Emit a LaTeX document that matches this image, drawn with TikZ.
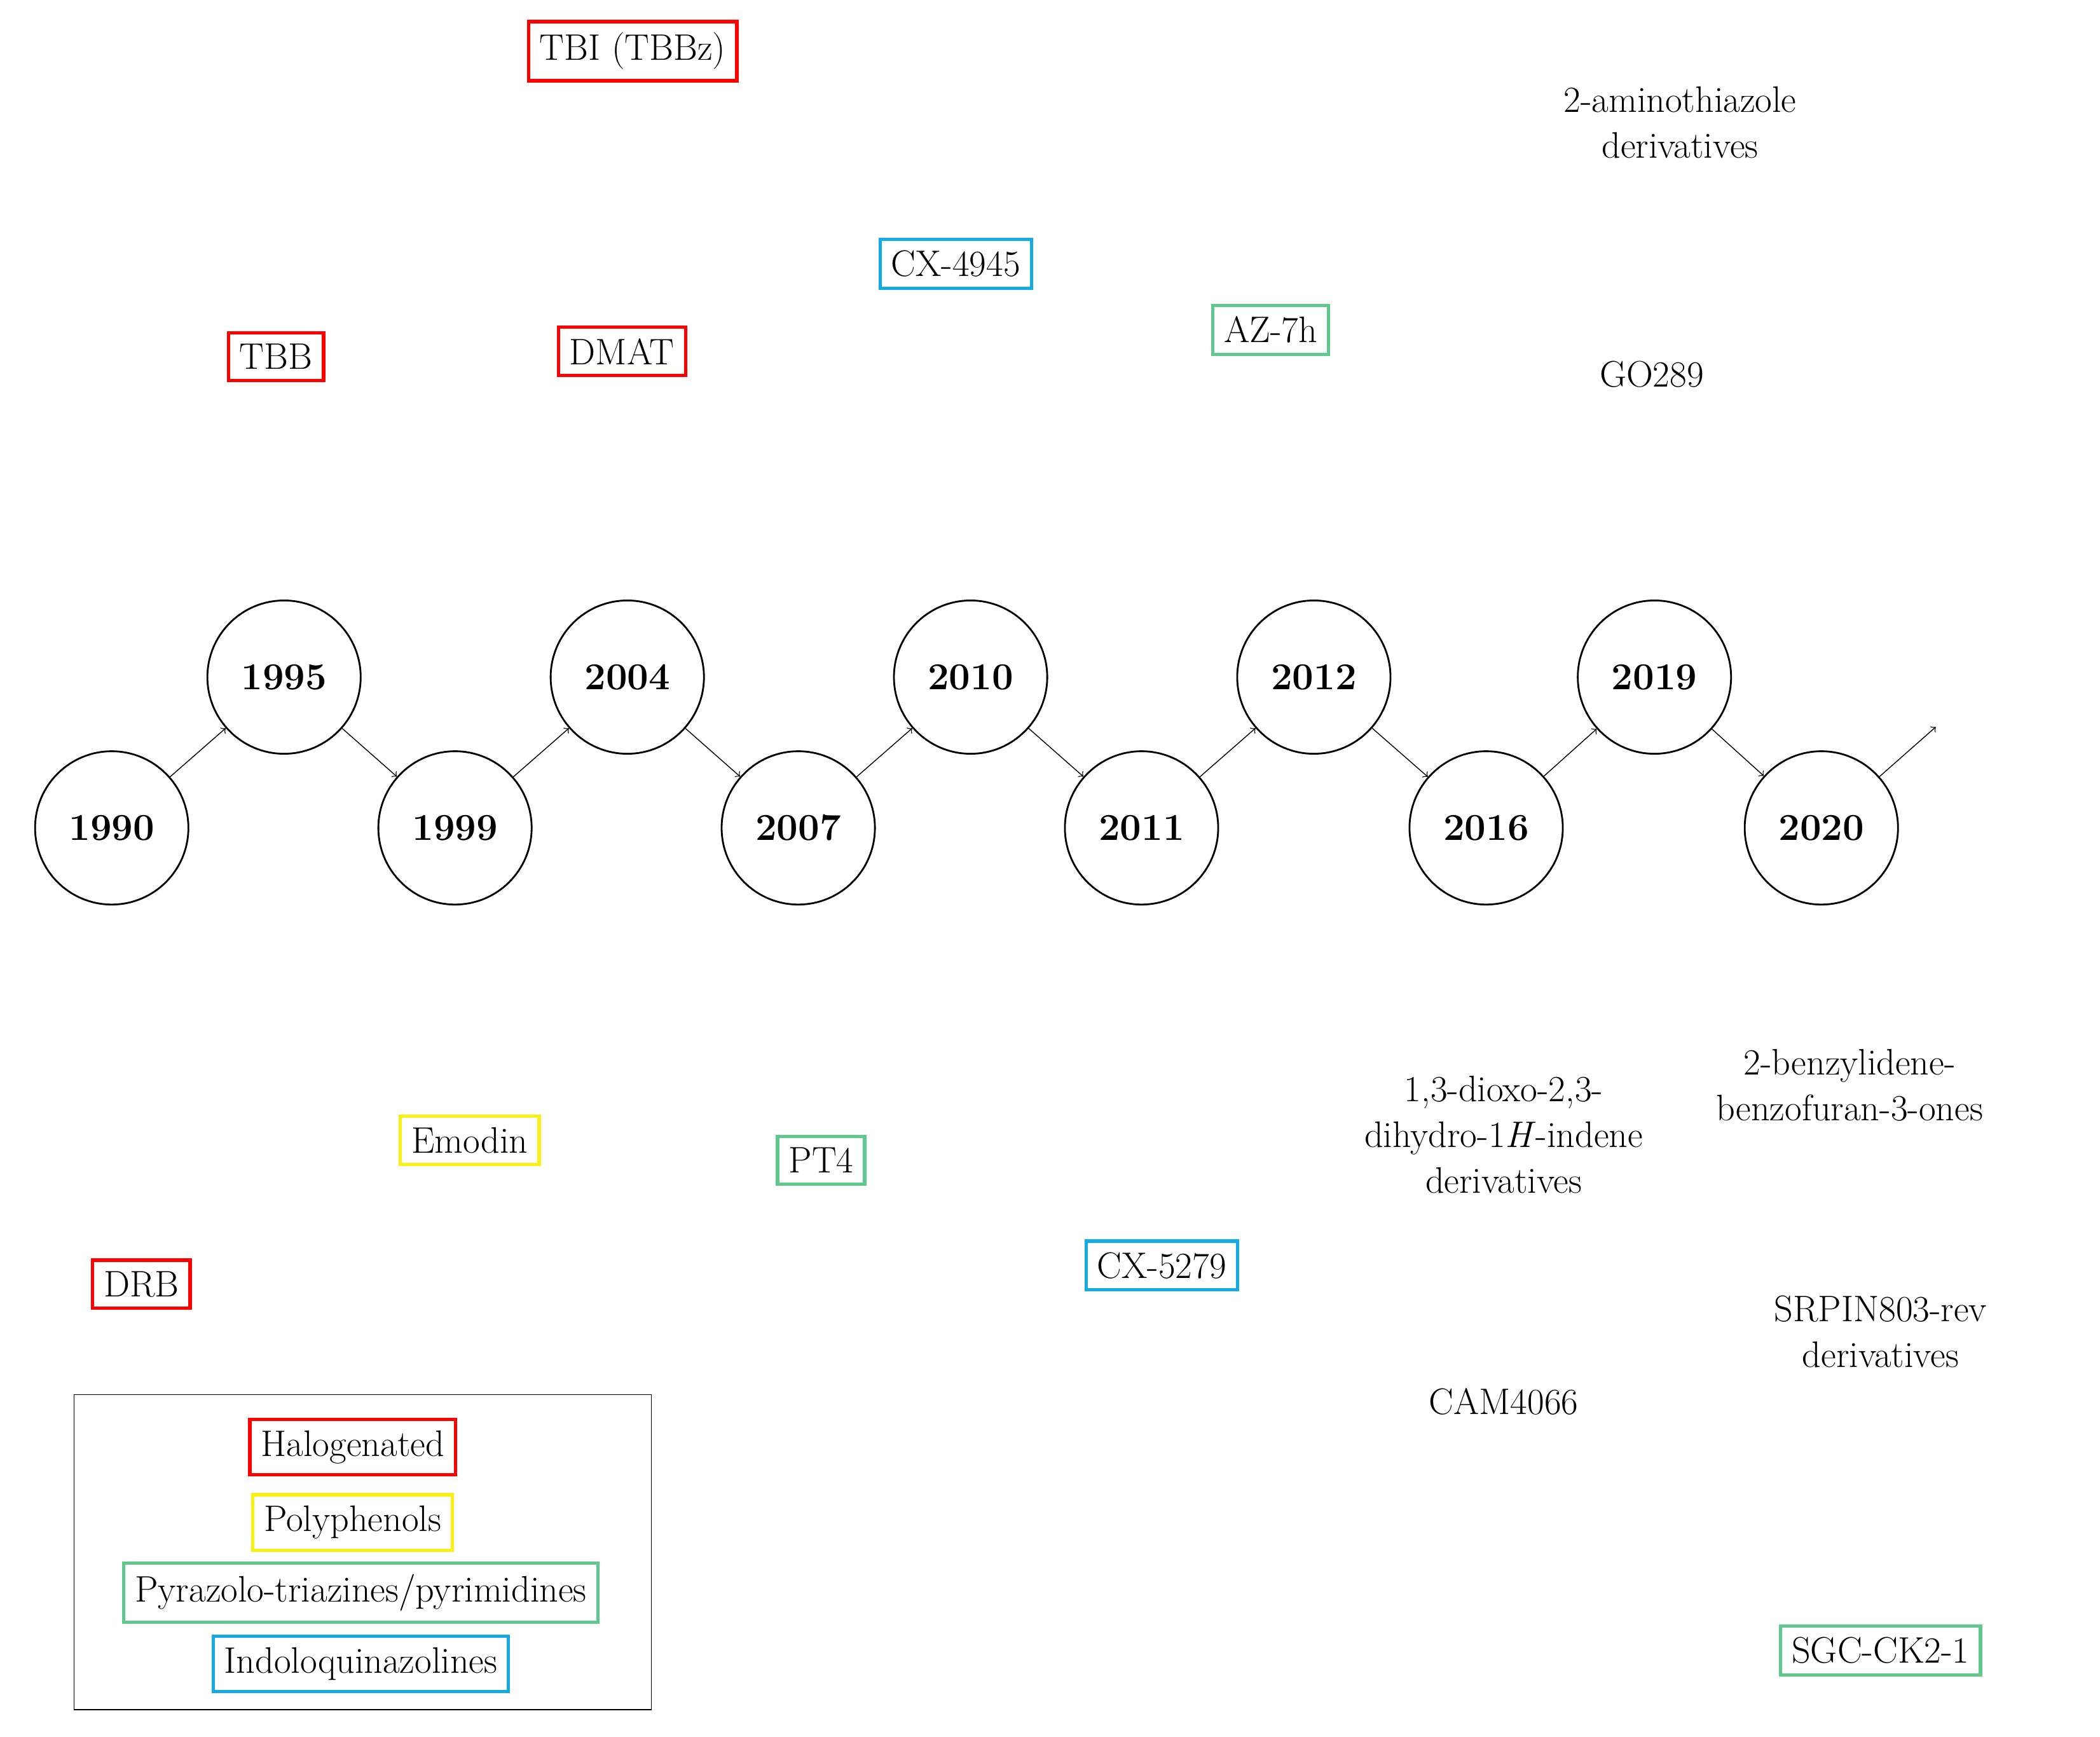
\documentclass[tikz,border=0pt]{standalone}
\usepackage{tikz}
\definecolor{pyrgreen}{RGB}{95,200,140}
\definecolor{indblue}{RGB}{20,170,230}
\definecolor{polyyellow}{RGB}{250,240,20}
\begin{document}
\begin{tikzpicture}[x=0.02117cm,y=-0.02117cm,
    year/.style={circle, draw, thick, minimum size=2.41cm, font=\fontsize{17}{20}\selectfont\bfseries},
    tag/.style={draw=#1, line width=1.5pt, inner sep=5pt, font=\fontsize{16.5}{19}\selectfont},
    lbl/.style={align=center, font=\fontsize{16.5}{20.5}\selectfont}]

    \useasboundingbox (0,0) rectangle (1560,1290);

    % Timeline
    \node[year] (y1990) at (83,615) {1990};
    \node[year] (y1995) at (211,503) {1995};
    \node[year] (y1999) at (338,615) {1999};
    \node[year] (y2004) at (466,503) {2004};
    \node[year] (y2007) at (593,615) {2007};
    \node[year] (y2010) at (721,503) {2010};
    \node[year] (y2011) at (848,615) {2011};
    \node[year] (y2012) at (976,503) {2012};
    \node[year] (y2016) at (1104,615) {2016};
    \node[year] (y2019) at (1229,503) {2019};
    \node[year] (y2020) at (1353,615) {2020};
    \coordinate (next) at (1438,540);

    \foreach \a/\b in {y1990/y1995, y1995/y1999, y1999/y2004, y2004/y2007,
        y2007/y2010, y2010/y2011, y2011/y2012, y2012/y2016, y2016/y2019,
        y2019/y2020, y2020/next}
        \draw[->] (\a) -- (\b);

    % Inhibitor names
    \node[tag=red] (tbi) at (470,38) {TBI (TBBz)};
    \node[tag=red] (tbb) at (205,265) {TBB};
    \node[tag=red] (dmat) at (462,261) {DMAT};
    \node[tag=indblue] (cx4945) at (710,196) {CX-4945};
    \node[tag=pyrgreen] (az7h) at (944,245) {AZ-7h};
    \node[tag=red] (drb) at (105,954) {DRB};
    \node[tag=polyyellow] (emodin) at (349,847) {Emodin};
    \node[tag=pyrgreen] (pt4) at (610,862) {PT4};
    \node[tag=indblue] (cx5279) at (863,940) {CX-5279};
    \node[tag=pyrgreen] (sgc) at (1397,1226) {SGC-CK2-1};

    \node[lbl] (amino) at (1248,91) {2-aminothiazole\\derivatives};
    \node[lbl] (go289) at (1227,278) {GO289};
    \node[lbl] (indene) at (1117,843) {1,3-dioxo-2,3-\\dihydro-1\textit{H}-indene\\derivatives};
    \node[lbl] (benzo) at (1374,806) {2-benzylidene-\\benzofuran-3-ones};
    \node[lbl] (srpin) at (1397,989) {SRPIN803-rev\\derivatives};
    \node[lbl] (cam) at (1117,1041) {CAM4066};

    % Legend
    \draw (55,1036) rectangle (484,1270);
    \node[tag=red] (lhal) at (262,1075) {Halogenated};
    \node[tag=polyyellow] (lpoly) at (262,1131) {Polyphenols};
    \node[tag=pyrgreen] (lpyr) at (268,1183) {Pyrazolo-triazines/pyrimidines};
    \node[tag=indblue] (lind) at (268,1236) {Indoloquinazolines};

\end{tikzpicture}
\end{document}
